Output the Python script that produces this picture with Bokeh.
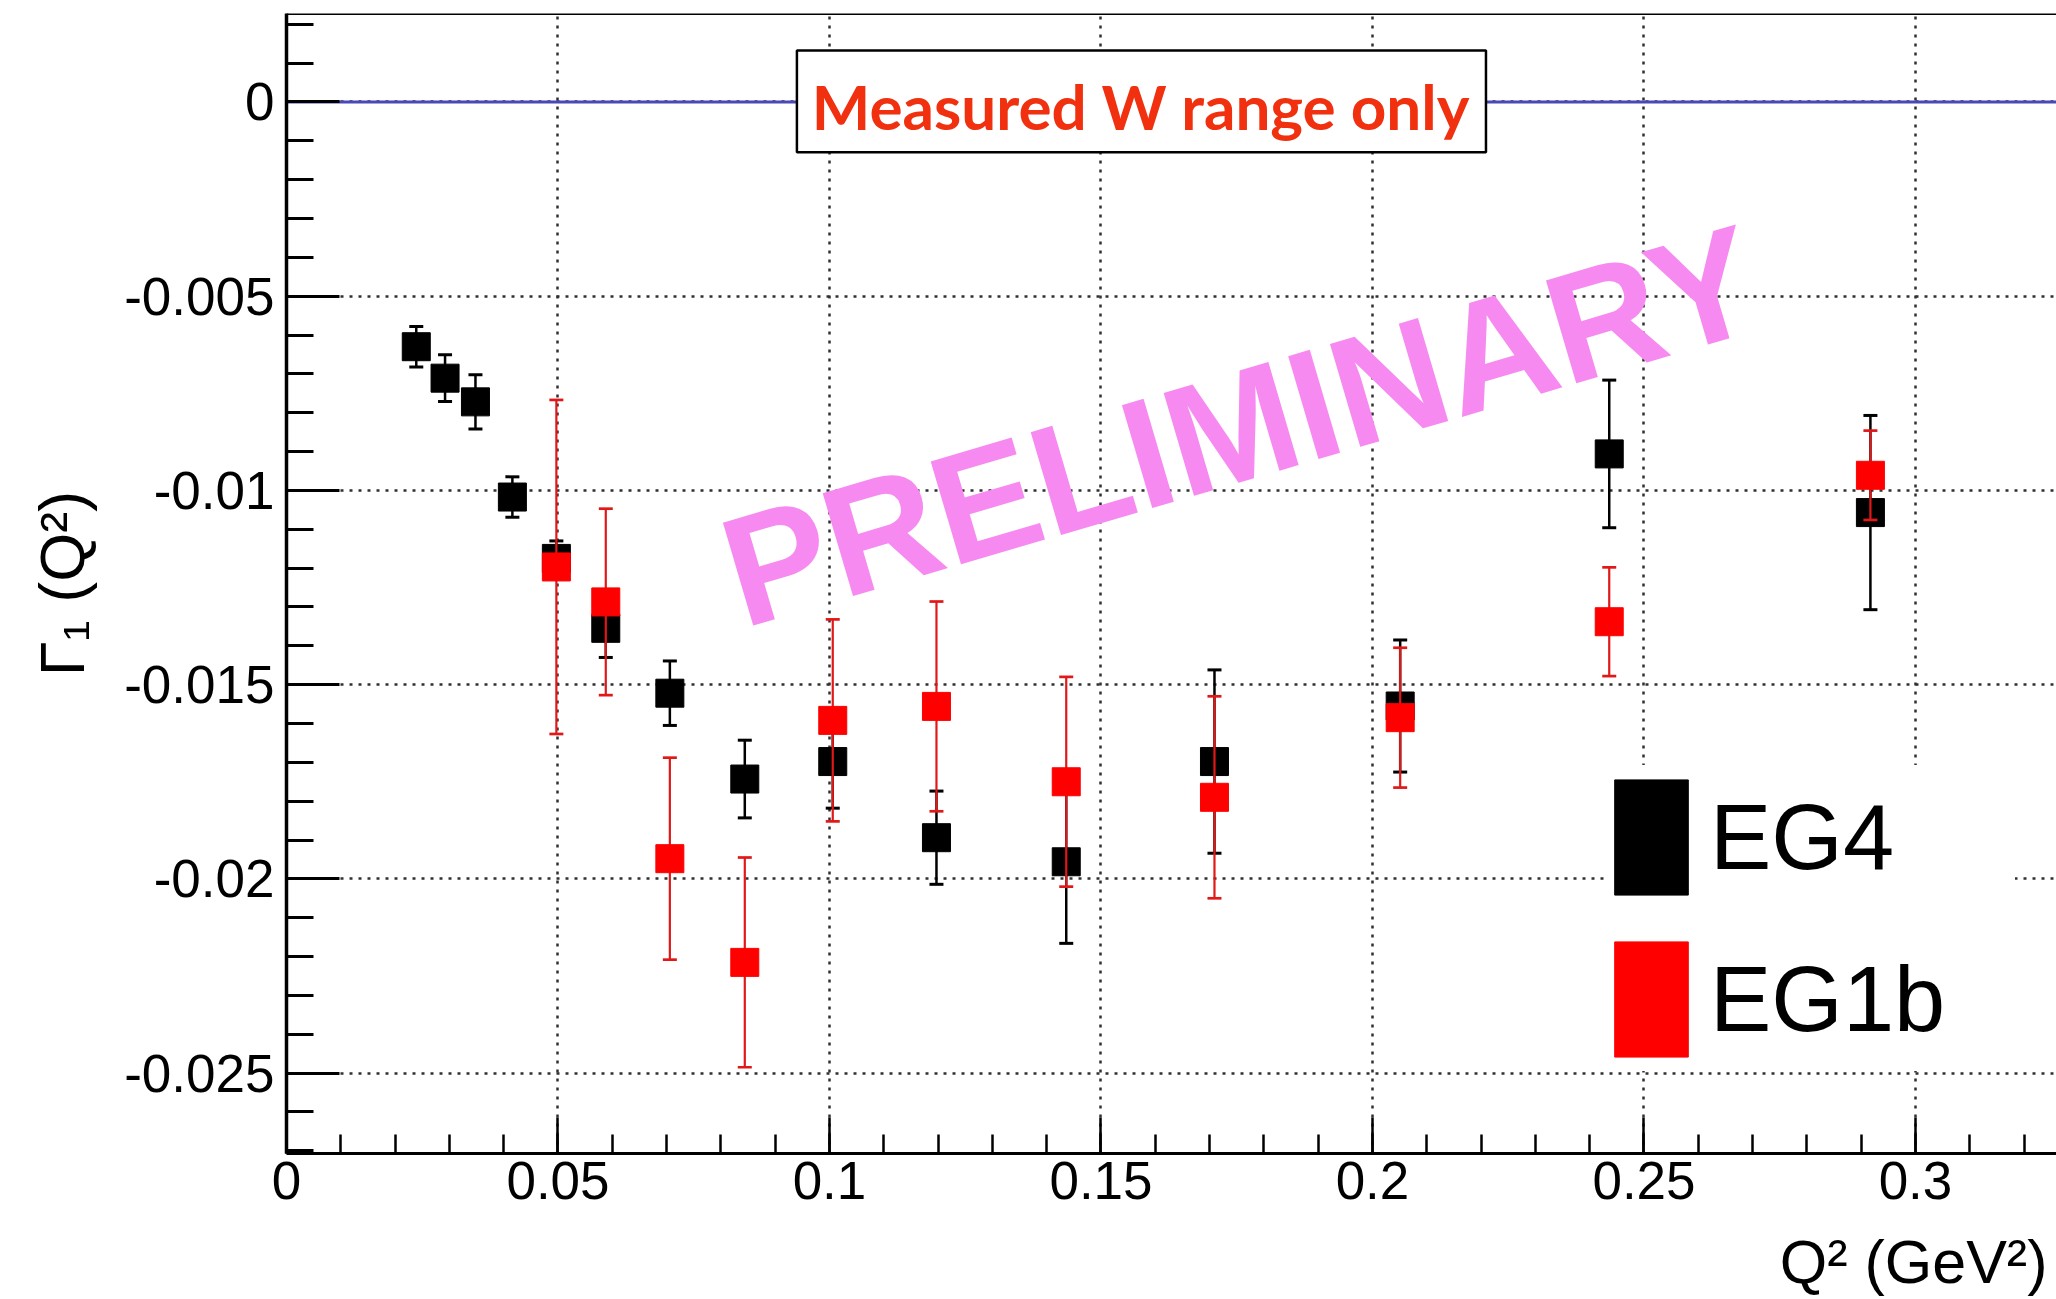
import math
import numpy as np
from bokeh.plotting import figure
from bokeh.models import (ColumnDataSource, FixedTicker, Span, BoxAnnotation, Label,
                          Legend, LegendItem, Range1d)
from bokeh.embed import file_html
from bokeh.resources import INLINE

# ---------------- data ----------------
series_names = ["EG4", "EG1b"]

eg4_q2 = [0.0239, 0.0292, 0.0348, 0.0416, 0.0497, 0.0588, 0.0706, 0.0844, 0.1006,
          0.1197, 0.1436, 0.1709, 0.2051, 0.2436, 0.2917]
eg4_g1 = [-0.00630, -0.00711, -0.00772, -0.01017, -0.01175, -0.01355, -0.01522, -0.01743,
          -0.01698, -0.01894, -0.01956, -0.01698, -0.01555, -0.00906, -0.01057]
eg4_err = [0.00052, 0.0006, 0.0007, 0.00052, 0.00045, 0.00075, 0.00083, 0.0010, 0.0012,
           0.0012, 0.0021, 0.00236, 0.0017, 0.0019, 0.0025]

eg1b_q2 = [0.0497, 0.0588, 0.0706, 0.0844, 0.1006, 0.1197, 0.1436, 0.1709, 0.2051,
           0.2436, 0.2917]
eg1b_g1 = [-0.01197, -0.01287, -0.01948, -0.02215, -0.01592, -0.01556, -0.01750, -0.01790,
           -0.01585, -0.01338, -0.00961]
eg1b_err = [0.0043, 0.0024, 0.0026, 0.0027, 0.0026, 0.0027, 0.0027, 0.0026, 0.0018,
            0.0014, 0.00115]

x_ticks = [0.0, 0.05, 0.1, 0.15, 0.2, 0.25, 0.3]
x_tick_labels = ["0", "0.05", "0.1", "0.15", "0.2", "0.25", "0.3"]
y_ticks = [-0.025, -0.02, -0.015, -0.01, -0.005, 0.0]
y_tick_labels = ["-0.025", "-0.02", "-0.015", "-0.01", "-0.005", "0"]

x_title = "Q\u00b2 (GeV\u00b2)"
y_title = "\u0393\u2081 (Q\u00b2)"
box_text = "Measured W range only"
watermark = "PRELIMINARY"

# ---------------- figure ----------------
X0, X1 = 0.0, 0.32597
Y0, Y1 = -0.02707, 0.002278
PX_PER_Y = 38844.0   # frame pixels per unit of y (used to place the x title below the frame)

p = figure(width=2056, height=1299, x_range=Range1d(X0, X1), y_range=Range1d(Y0, Y1),
           output_backend="svg", toolbar_location=None,
           min_border_left=286, min_border_right=0, min_border_top=13, min_border_bottom=146)
p.outline_line_color = None
p.background_fill_color = "white"
p.border_fill_color = "white"

x_minor = [round(v, 3) for v in np.arange(0.0, 0.33, 0.01)]
y_minor = [round(v, 4) for v in np.arange(-0.027, 0.0025, 0.001)]
xt = FixedTicker(ticks=x_ticks, minor_ticks=x_minor)
yt = FixedTicker(ticks=y_ticks, minor_ticks=y_minor)

xa = p.xaxis[0]
xa.ticker = xt
xa.major_label_overrides = {v: s for v, s in zip(x_ticks, x_tick_labels)}
xa.major_tick_in = 36
xa.major_tick_out = 0
xa.minor_tick_in = 19
xa.minor_tick_out = 0
xa.axis_line_width = 3
xa.major_tick_line_width = 2.5
xa.minor_tick_line_width = 2.5
xa.major_label_text_font = "Liberation Sans"
xa.major_label_text_font_size = "53px"
xa.major_label_text_color = "black"
xa.major_label_standoff = 8

ya = p.yaxis[0]
ya.ticker = yt
ya.major_label_overrides = {v: s for v, s in zip(y_ticks, y_tick_labels)}
ya.major_tick_in = 53
ya.major_tick_out = 0
ya.minor_tick_in = 27
ya.minor_tick_out = 0
ya.axis_line_width = 3.5
ya.major_tick_line_width = 3
ya.minor_tick_line_width = 3
ya.major_label_text_font = "Liberation Sans"
ya.major_label_text_font_size = "53px"
ya.major_label_text_color = "black"
ya.major_label_standoff = 12
ya.axis_label = y_title
ya.axis_label_text_font = "Liberation Sans"
ya.axis_label_text_font_size = "63px"
ya.axis_label_text_font_style = "normal"
ya.axis_label_text_color = "black"
ya.axis_label_standoff = 24

for g, t in ((p.xgrid[0], xt), (p.ygrid[0], yt)):
    g.ticker = t
    g.grid_line_color = "#303030"
    g.grid_line_width = 2.5
    g.grid_line_dash = "3 6"

# zero line and top frame line
p.add_layout(Span(location=0, dimension="width", line_color="#4848b8", line_width=3,
                  level="underlay"))
p.add_layout(Span(location=Y1, dimension="width", line_color="black", line_width=3))

# ---------------- data marks ----------------
def draw_series(xs, ys, es, color, bar_color, lw):
    lo = [y - e for y, e in zip(ys, es)]
    hi = [y + e for y, e in zip(ys, es)]
    src = ColumnDataSource(dict(x=xs, y=ys, lo=lo, hi=hi))
    p.segment(x0="x", y0="lo", x1="x", y1="hi", source=src, line_color=bar_color, line_width=lw)
    p.scatter("x", "lo", marker="dash", size=14, line_width=lw + 0.5, line_color=bar_color, source=src)
    p.scatter("x", "hi", marker="dash", size=14, line_width=lw + 0.5, line_color=bar_color, source=src)
    p.scatter("x", "y", marker="square", size=28, fill_color=color, line_color=color,
              line_width=1, source=src)
    # legend-only renderer (hidden); its swatch is drawn by the legend
    key = p.quad(left=xs[:1], right=xs[:1], top=ys[:1], bottom=ys[:1],
                 fill_color=color, line_color=color, visible=False)
    return key

key4 = draw_series(eg4_q2, eg4_g1, eg4_err, "black", "black", 2.5)
key1b = draw_series(eg1b_q2, eg1b_g1, eg1b_err, "#ff0000", "#e01818", 2.2)

# ---------------- watermark ----------------
p.add_layout(Label(x=0.0813, y=-0.01222, text=watermark, angle=math.radians(16.4),
                   text_font="Liberation Sans", text_font_style="bold", text_font_size="156px",
                   text_color="#f78af0", text_align="left", text_baseline="alphabetic"))

# ---------------- boxed note ----------------
p.add_layout(BoxAnnotation(left=0.0940, right=0.2209, top=0.001327, bottom=-0.001293,
                           fill_color="white", fill_alpha=1.0, line_color="black",
                           line_alpha=1.0, line_width=2.5))
p.add_layout(Label(x=0.15737, y=-0.000091, text=box_text, text_font="Lato",
                   text_font_style="bold", text_font_size="62px", text_color="#f0300f",
                   text_align="center", text_baseline="alphabetic"))

# ---------------- legend ----------------
legend = Legend(items=[LegendItem(label=series_names[0], renderers=[key4]),
                       LegendItem(label=series_names[1], renderers=[key1b])],
                location=(1319, 82), glyph_width=92, glyph_height=144, label_height=144,
                label_width=305, label_standoff=13, spacing=18, padding=10, margin=0,
                label_text_font="Liberation Sans", label_text_font_size="92px",
                label_text_color="black", background_fill_color="white",
                background_fill_alpha=1.0, border_line_color=None,
                inactive_fill_alpha=0.0)
p.add_layout(legend)

# ---------------- x title (right-aligned, in the panel below the axis) ----------------
p.add_layout(Label(x=0.32431, y=Y0 - (1261 - 1153) / PX_PER_Y, text=x_title,
                   text_font="Liberation Sans", text_font_size="61px", text_color="black",
                   text_align="right", text_baseline="alphabetic"), "below")

open("out.html", "w").write(file_html(p, INLINE))
